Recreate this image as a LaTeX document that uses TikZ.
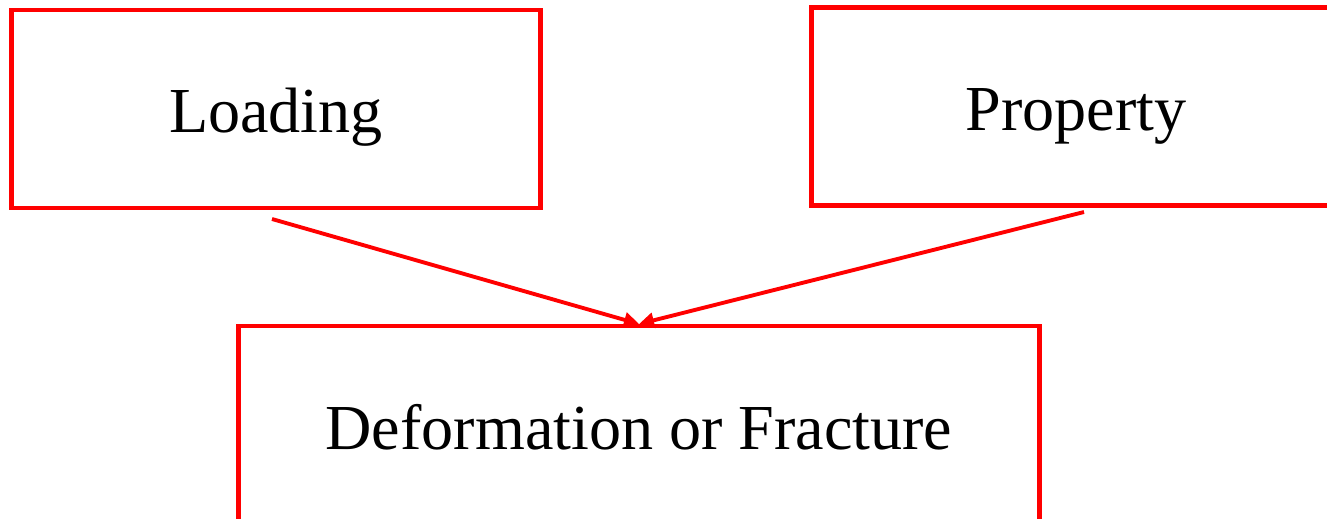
\documentclass[tikz,border=0pt]{standalone}
\usepackage{fontspec}
\setmainfont{Liberation Serif}
\usepackage{xcolor}
\usetikzlibrary{arrows.meta}

\tikzset{
  blocco/.style={draw=red, line width=2.8pt, minimum width=10.57cm,
    minimum height=3.96cm, inner sep=0pt, text height=0.94cm, text depth=0pt,
    font=\fontsize{36.5}{44}\selectfont},
  freccia/.style={red, line width=2.2pt,
    -{Triangle[length=0.3cm, width=0.3cm]}}
}

\begin{document}
\begin{tikzpicture}[x=0.02cm, y=-0.02cm]
        % Area
        \useasboundingbox (0,0) rectangle (1327,518);

        % Blocchi
        \node[blocco] (loading) at (276,109) {Loading};
        \node[blocco] (property) at (1076,106.5) {Property};
        \node[blocco, minimum width=16.04cm, minimum height=4.0cm]
          (deform) at (639,426) {Deformation or Fracture};

        % Frecce
        \coordinate (lstart) at (272,219);
        \coordinate (pstart) at (1084,212);
        \coordinate (dend) at (639,324);
        \draw[freccia] (lstart) -- (dend);
        \draw[freccia] (pstart) -- (dend);
\end{tikzpicture}
\end{document}
